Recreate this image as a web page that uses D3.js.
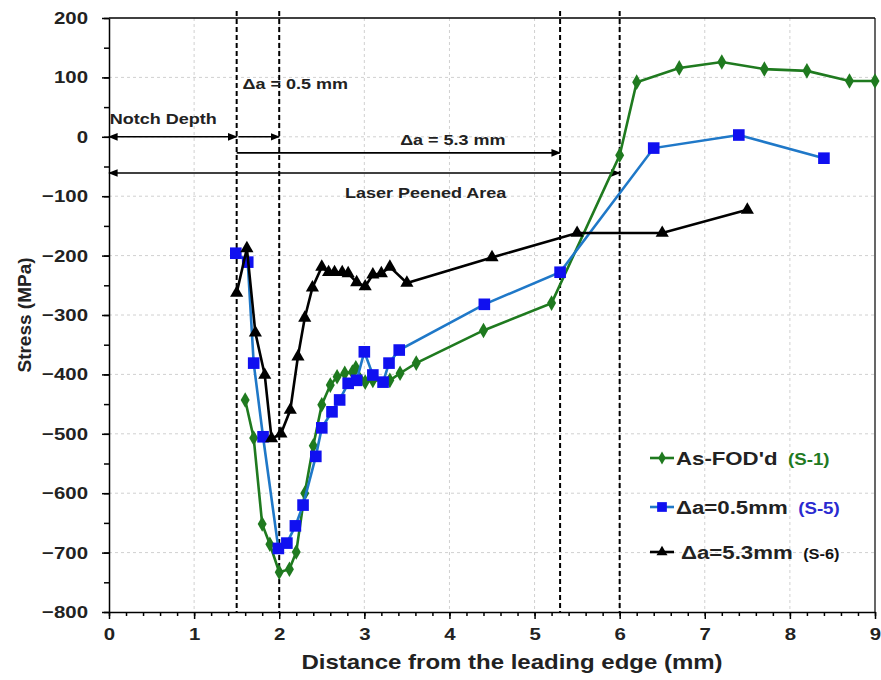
<!DOCTYPE html>
<html>
<head>
<meta charset="utf-8">
<script src="https://cdn.jsdelivr.net/npm/d3@7"></script>
<style>
  body { margin: 0; background: #fff; }
  text { font-family: "Liberation Sans", Arial, sans-serif; font-weight: bold; }
  .grid line { stroke: #d0d0d0; stroke-dasharray: 3,3; stroke-width: 1; }
  .axis path, .axis line { stroke: #000; stroke-width: 1.5; }
  .axis text { font-size: 17px; fill: #222; }
</style>
</head>
<body>
<div id="chart"></div>
<script>
// As-FOD'd (S-1)
var fodX = [1.6, 1.7, 1.8, 1.89, 2.0, 2.12, 2.2, 2.3, 2.4, 2.5, 2.6, 2.68, 2.77, 2.86, 2.9, 3.01, 3.1, 3.3, 3.42, 3.61, 4.4, 5.2, 6.0, 6.2, 6.7, 7.2, 7.7, 8.2, 8.7, 9.0];
var fodY = [-443, -507, -652, -686, -733, -728, -699, -600, -520, -451, -418, -404, -398, -396, -389, -413, -410, -410, -398, -381, -326, -280, -31, 92, 116, 126, 114, 111, 94, 94];

// da = 0.5 mm (S-5)
var s5X = [1.49, 1.63, 1.7, 1.81, 1.99, 2.09, 2.19, 2.28, 2.43, 2.5, 2.62, 2.71, 2.81, 2.91, 3.0, 3.1, 3.22, 3.29, 3.41, 4.41, 5.3, 6.4, 7.4, 8.4];
var s5Y = [-196, -211, -381, -505, -693, -684, -655, -620, -538, -490, -463, -443, -415, -410, -362, -401, -413, -381, -359, -282, -228, -19, 3, -36];

// da = 5.3 mm (S-6)
var s6X = [1.5, 1.62, 1.72, 1.83, 1.91, 2.02, 2.13, 2.22, 2.3, 2.39, 2.5, 2.58, 2.65, 2.74, 2.81, 2.91, 3.01, 3.1, 3.2, 3.3, 3.5, 4.5, 5.5, 6.5, 7.5];
var s6Y = [-263, -188, -330, -401, -508, -500, -460, -370, -305, -254, -219, -228, -228, -228, -230, -245, -252, -232, -230, -219, -246, -203, -162, -162, -123];

var xTicks = [0, 1, 2, 3, 4, 5, 6, 7, 8, 9];
var yTicks = [200, 100, 0, -100, -200, -300, -400, -500, -600, -700, -800];
var markLines = [1.5, 2.0, 5.3, 6.0];

var series = [
  {name: "As-FOD'd", tag: "(S-1)", tagColor: "#1f7a1f", line: "#1f7a1f", fill: "#1f7a1f", shape: d3.symbolDiamond, size: 70, xs: fodX, ys: fodY},
  {name: "\u0394a=0.5mm", tag: "(S-5)", tagColor: "#2a2ad0", line: "#1f78c8", fill: "#1010f0", shape: d3.symbolSquare, size: 135, xs: s5X, ys: s5Y},
  {name: "\u0394a=5.3mm", tag: "(S-6)", tagColor: "#111", line: "#000", fill: "#000", shape: d3.symbolTriangle, size: 75, xs: s6X, ys: s6Y}
];

var width = 881, height = 680;
var margin = {left: 109, right: 6, top: 18, bottom: 68};
var sx = 1.2; // the source picture's lettering is a bit wide

var svg = d3.select("#chart").append("svg")
  .attr("width", width)
  .attr("height", height);

var x = d3.scaleLinear().domain([0, 9]).range([margin.left, width - margin.right]);
var y = d3.scaleLinear().domain([-800, 200]).range([height - margin.bottom, margin.top]);

// grid
var grid = svg.append("g").attr("class", "grid");
grid.selectAll(".gx").data(xTicks.slice(1, -1)).enter().append("line")
  .attr("x1", function(d) { return x(d); }).attr("x2", function(d) { return x(d); })
  .attr("y1", y(200)).attr("y2", y(-800));
grid.selectAll(".gy").data(yTicks.slice(1, -1)).enter().append("line")
  .attr("x1", x(0)).attr("x2", x(9))
  .attr("y1", function(d) { return y(d); }).attr("y2", function(d) { return y(d); });

// frame (top and right)
svg.append("line").attr("x1", x(0)).attr("x2", x(9)).attr("y1", y(200)).attr("y2", y(200))
  .attr("stroke", "#000").attr("stroke-width", 1.5);
svg.append("line").attr("x1", x(9)).attr("x2", x(9)).attr("y1", y(200)).attr("y2", y(-800))
  .attr("stroke", "#000").attr("stroke-width", 1.2);

// minor ticks
svg.append("g").attr("class", "axis")
  .attr("transform", "translate(0," + y(-800) + ")")
  .call(d3.axisBottom(x).ticks(45).tickSize(4).tickFormat(""))
  .select(".domain").remove();
svg.append("g").attr("class", "axis")
  .attr("transform", "translate(" + x(0) + ",0)")
  .call(d3.axisLeft(y).ticks(20).tickSize(5).tickFormat(""))
  .select(".domain").remove();

// axes
svg.append("g").attr("class", "axis")
  .attr("transform", "translate(0," + y(-800) + ")")
  .call(d3.axisBottom(x).tickValues(xTicks).tickSize(7).tickSizeOuter(0).tickPadding(9).tickFormat(d3.format("d")))
  .selectAll("text").attr("transform", "scale(" + sx + ",1)");
svg.append("g").attr("class", "axis")
  .attr("transform", "translate(" + x(0) + ",0)")
  .call(d3.axisLeft(y).tickValues(yTicks).tickSize(7).tickSizeOuter(0).tickFormat(d3.format("d")))
  .selectAll("text").attr("x", -21 / sx).attr("transform", "scale(" + sx + ",1)");

function label(t, px, py, size, anchor) {
  return svg.append("text")
    .attr("transform", "translate(" + px + "," + py + ") scale(" + sx + ",1)")
    .attr("text-anchor", anchor || "start").attr("font-size", size).attr("fill", "#222")
    .text(t);
}

label("Distance from the leading edge (mm)", (x(0) + x(9)) / 2 + 20, 669, 20, "middle");
svg.append("text")
  .attr("transform", "translate(31," + y(-300) + ") rotate(-90)")
  .attr("text-anchor", "middle").attr("font-size", 19).attr("fill", "#222")
  .text("Stress (MPa)");

// dashed vertical markers
svg.selectAll(".vmark").data(markLines).enter().append("line")
  .attr("x1", function(d) { return x(d); }).attr("x2", function(d) { return x(d); })
  .attr("y1", 11).attr("y2", y(-800))
  .attr("stroke", "#000").attr("stroke-width", 2).attr("stroke-dasharray", "5,3");

// arrows
var defs = svg.append("defs");
defs.append("marker").attr("id", "ah").attr("viewBox", "0 0 10 10")
  .attr("refX", 9).attr("refY", 5).attr("markerWidth", 6).attr("markerHeight", 6)
  .attr("orient", "auto-start-reverse")
  .append("path").attr("d", "M0,1L10,5L0,9Z").attr("fill", "#000");

function arrow(x0, x1, v, both) {
  var l = svg.append("line")
    .attr("x1", x(x0)).attr("x2", x(x1)).attr("y1", y(v)).attr("y2", y(v))
    .attr("stroke", "#000").attr("stroke-width", 1.6)
    .attr("marker-end", "url(#ah)");
  if (both) l.attr("marker-start", "url(#ah)");
}
arrow(0, 1.5, 0, true);
arrow(1.52, 2.0, 0, false);
arrow(1.5, 5.3, -27, false);
arrow(0, 6.0, -61, true);

label("\u0394a = 0.5 mm", x(1.57), 89, 15);
label("Notch Depth", x(0.01), 124, 15);
label("\u0394a = 5.3 mm", x(4.04), 145, 15, "middle");
label("Laser Peened Area", x(3.72), 198, 15, "middle");

// series
series.forEach(function(s) {
  var pts = s.xs.map(function(v, i) { return [v, s.ys[i]]; });
  svg.append("path")
    .datum(pts)
    .attr("fill", "none")
    .attr("stroke", s.line)
    .attr("stroke-width", 2.6)
    .attr("d", d3.line().x(function(d) { return x(d[0]); }).y(function(d) { return y(d[1]); }));
  svg.append("g").selectAll("path").data(pts).enter().append("path")
    .attr("transform", function(d) { return "translate(" + x(d[0]) + "," + y(d[1]) + ")"; })
    .attr("d", d3.symbol().type(s.shape).size(s.size))
    .attr("fill", s.fill);
});

// legend
var legY = [458, 507, 552];
series.forEach(function(s, i) {
  var g = svg.append("g").attr("transform", "translate(650," + legY[i] + ")");
  g.append("line").attr("x1", 0).attr("x2", 24).attr("stroke", s.line).attr("stroke-width", 2.6);
  g.append("path").attr("transform", "translate(12,0)")
    .attr("d", d3.symbol().type(s.shape).size(s.size * 0.7)).attr("fill", s.fill);
  var t = g.append("text")
    .attr("transform", "translate(" + (i == 2 ? 31 : 26) + ",7) scale(1.17,1)")
    .attr("font-size", 19).attr("fill", "#222");
  t.append("tspan").text(s.name);
  t.append("tspan").attr("dx", 9).attr("font-size", i == 2 ? 14 : 16).attr("fill", s.tagColor).text(s.tag);
});
</script>
</body>
</html>
